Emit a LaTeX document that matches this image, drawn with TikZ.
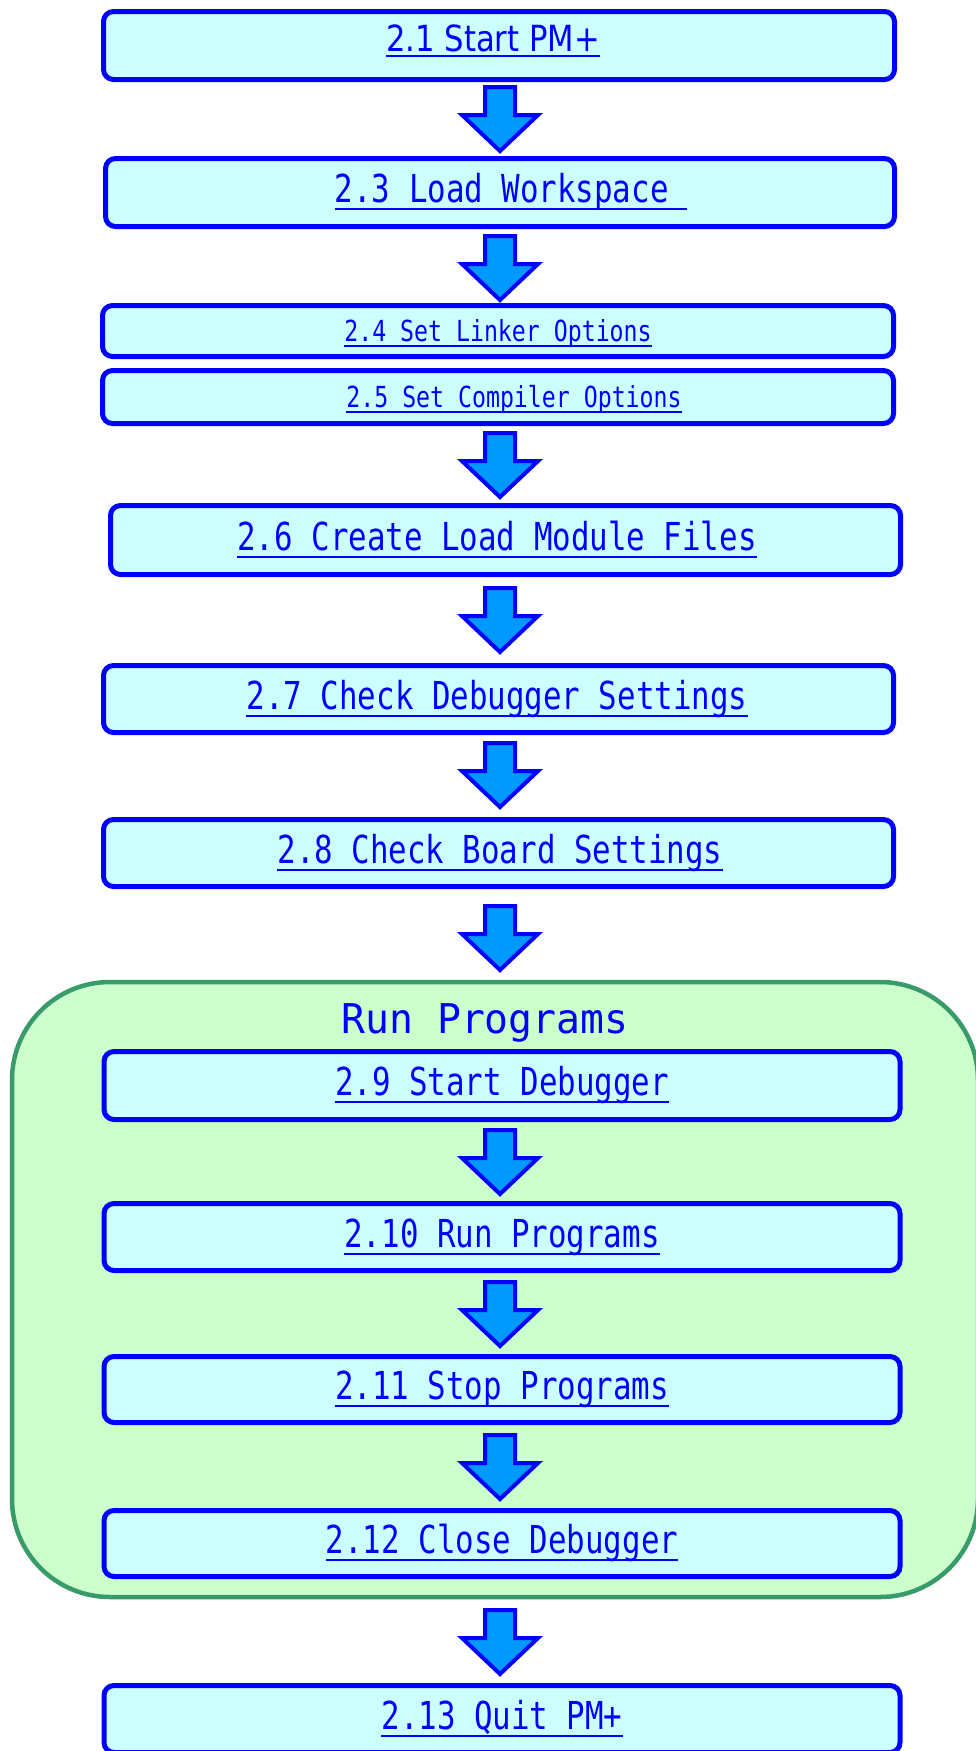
\documentclass[tikz,border=0pt]{standalone}
\usepackage{fontspec}
\newfontfamily\stepfont[FakeStretch=0.8]{DejaVu Sans Mono}
\newfontfamily\headfont[FakeStretch=0.97]{DejaVu Sans Mono}
\newfontfamily\firstfont[FakeStretch=0.85]{DejaVu Sans}
\definecolor{bxblue}{RGB}{0,0,255}
\definecolor{bxfill}{RGB}{204,255,255}
\definecolor{arfill}{RGB}{0,153,255}
\definecolor{grfill}{RGB}{204,255,204}
\definecolor{grline}{RGB}{58,155,106}
\tikzset{
  stepbox/.style={draw=bxblue, fill=bxfill, line width=5pt, rounded corners=10pt, inner sep=0pt},
  lbl/.style={text=bxblue, inner sep=0pt, anchor=base, font=\stepfont\fontsize{38.5}{40}\selectfont},
  smalllbl/.style={text=bxblue, inner sep=0pt, anchor=base, font=\stepfont\fontsize{29}{30}\selectfont},
  firstlbl/.style={text=bxblue, inner sep=0pt, anchor=base, font=\firstfont\fontsize{36}{38}\selectfont},
  headlbl/.style={text=bxblue, inner sep=0pt, anchor=base, font=\headfont\fontsize{41}{43}\selectfont},
  uline/.style={draw=bxblue, line width=2pt},
  barrow/.style={draw=bxblue, fill=arfill, line width=4pt, line join=miter},
  grp/.style={draw=grline, fill=grfill, line width=4.5pt, rounded corners=98pt, inner sep=0pt}
}
\newcommand\blockarrow[1]{%
  \draw[barrow] (485,#1+2) -- (515,#1+2) -- (515,#1+30) -- (538,#1+30) -- (500,#1+66) -- (462,#1+30) -- (485,#1+30) -- cycle;}
\newcommand\ul[2]{\draw[uline] ([yshift=-#2pt]#1.base west) -- ([yshift=-#2pt]#1.base east);}
\begin{document}
\begin{tikzpicture}[x={(1pt,0)}, y={(0,-1pt)}]
\useasboundingbox (0,0) rectangle (976,1751);
\clip (0,0) rectangle (976,1751);

% group
\node[grp, minimum width=966pt, minimum height=615pt] (grp) at (495,1289.5) {};
\node[headlbl] (title) at (485,1033) {Run Programs};

% boxes
\node[stepbox, minimum width=791pt, minimum height=68pt] (b1) at (499,45.5) {};
\node[stepbox, minimum width=789pt, minimum height=68pt] (b2) at (500,192.5) {};
\node[stepbox, minimum width=791pt, minimum height=51pt] (b3) at (498,331) {};
\node[stepbox, minimum width=791pt, minimum height=53pt] (b4) at (498,397) {};
\node[stepbox, minimum width=790pt, minimum height=69pt] (b5) at (505.5,540) {};
\node[stepbox, minimum width=790pt, minimum height=67pt] (b6) at (498.5,699) {};
\node[stepbox, minimum width=790pt, minimum height=67pt] (b7) at (498.5,853) {};
\node[stepbox, minimum width=796pt, minimum height=68pt] (b8) at (502,1085.5) {};
\node[stepbox, minimum width=796pt, minimum height=67pt] (b9) at (502,1237) {};
\node[stepbox, minimum width=796pt, minimum height=66pt] (b10) at (502,1389.5) {};
\node[stepbox, minimum width=796pt, minimum height=66pt] (b11) at (502,1543.5) {};
\node[stepbox, minimum width=796pt, minimum height=67pt] (b12) at (502,1719) {};

% labels
\node[firstlbl] (t1) at (493,51) {2.1 Start PM+}; \ul{t1}{5}
\node[lbl] (t2) at (511,202) {2.3 Load Workspace\phantom{x}}; \ul{t2}{7}
\node[smalllbl] (t3) at (498,341) {2.4 Set Linker Options}; \ul{t3}{5}
\node[smalllbl] (t4) at (514,407) {2.5 Set Compiler Options}; \ul{t4}{5}
\node[lbl] (t5) at (497,550) {2.6 Create Load Module Files}; \ul{t5}{7}
\node[lbl] (t6) at (497,709) {2.7 Check Debugger Settings}; \ul{t6}{7}
\node[lbl] (t7) at (500,863) {2.8 Check Board Settings}; \ul{t7}{7}
\node[lbl] (t8) at (502,1095) {2.9 Start Debugger}; \ul{t8}{7}
\node[lbl] (t9) at (502,1247) {2.10 Run Programs}; \ul{t9}{7}
\node[lbl] (t10) at (502,1399) {2.11 Stop Programs}; \ul{t10}{7}
\node[lbl] (t11) at (502,1553) {2.12 Close Debugger}; \ul{t11}{7}
\node[lbl] (t12) at (502,1729) {2.13 Quit PM+}; \ul{t12}{7}

% arrows
\blockarrow{85}
\blockarrow{234}
\blockarrow{431}
\blockarrow{586}
\blockarrow{741}
\blockarrow{904}
\blockarrow{1128}
\blockarrow{1280}
\blockarrow{1433}
\blockarrow{1608}
\end{tikzpicture}
\end{document}
